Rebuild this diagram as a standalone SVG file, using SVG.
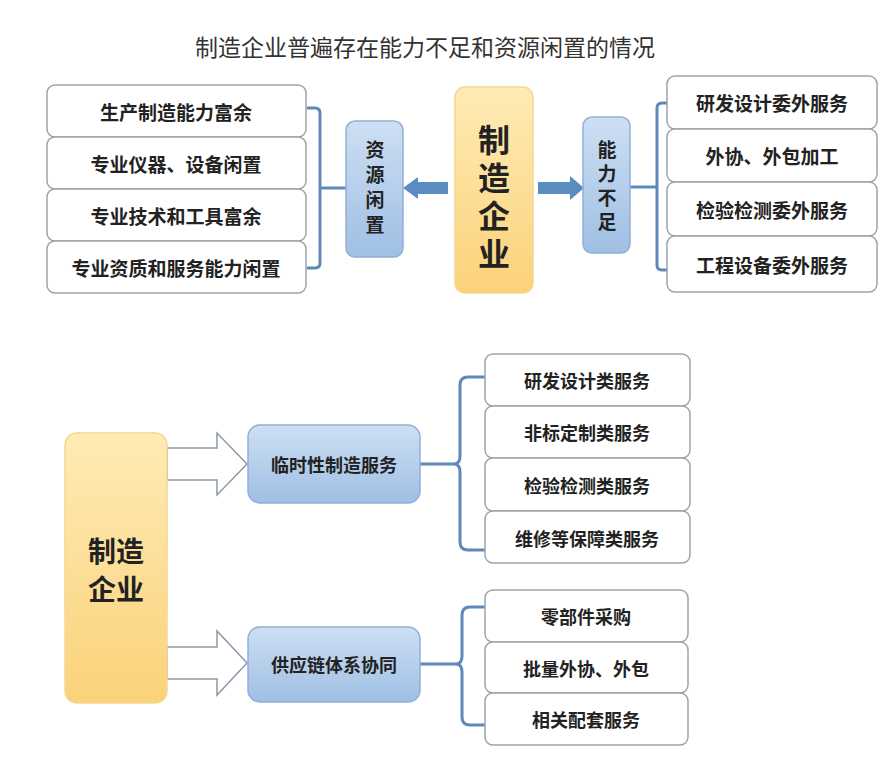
<svg xmlns="http://www.w3.org/2000/svg" width="895" height="759" viewBox="0 0 895 759">
<defs>
<linearGradient id="gBlue" x1="0" y1="0" x2="0" y2="1">
<stop offset="0" stop-color="#cddff3"/>
<stop offset="1" stop-color="#9fbfe4"/>
</linearGradient>
<linearGradient id="gYel" x1="0" y1="0" x2="0" y2="1">
<stop offset="0" stop-color="#feebb5"/>
<stop offset="1" stop-color="#fbd27a"/>
</linearGradient>
<style>
text{font-family:"Noto Sans CJK SC","Noto Sans CJK TC",sans-serif;fill:#222;text-anchor:middle;dominant-baseline:central}
.t{font-size:23px;font-weight:normal;fill:#333}
.wb{fill:#fff;stroke:#9ea3aa;stroke-width:1.5}
.bb{fill:url(#gBlue);stroke:#90b0d6;stroke-width:1.5}
.yb{fill:url(#gYel);stroke:#f6d690;stroke-width:1.5}
.lb{font-size:19px;font-weight:bold}
.sb{font-size:18px;font-weight:bold}
.v{writing-mode:vertical-rl}
.br{fill:none;stroke:#5f89b9;stroke-width:3}
.sa{fill:#5b8cc0}
.ha{fill:#fff;stroke:#8c99a6;stroke-width:1.5}
</style>
</defs>
<rect width="895" height="759" fill="#fff"/>
<text class="t" x="425" y="46">制造企业普遍存在能力不足和资源闲置的情况</text>

<g id="connectors">
<path class="br" d="M307,108 H315 Q320,108 320,113 V263 Q320,268 315,268 H307 M320,188 H346"/>
<path class="br" d="M667,103 H662 Q657,103 657,108 V265 Q657,270 662,270 H667 M630,187 H657"/>
<path class="br" d="M485,377 H468 Q460,377 460,385 V456 Q460,464 454,464 M485,550 H468 Q460,550 460,542 V472 Q460,464 454,464 M420,464 H456"/>
<path class="br" d="M485,607 H470 Q462,607 462,615 V656 Q462,664 456,664 M485,725 H470 Q462,725 462,717 V672 Q462,664 456,664 M420,664 H458"/>
<polygon class="sa" points="448,182 418,182 418,177 403,188 418,199 418,194 448,194"/>
<polygon class="sa" points="538,182 570,182 570,176 584,188 570,200 570,194 538,194"/>
<polygon class="ha" points="167,448 217,448 217,433 247,464 217,495 217,480 167,480"/>
<polygon class="ha" points="167,647 217,647 217,631 247,663 217,695 217,679 167,679"/>
</g>

<g id="left1"><rect class="wb" x="47" y="85" width="259" height="52" rx="8"/><text class="lb" x="176" y="111">生产制造能力富余</text></g>
<g id="left2"><rect class="wb" x="47" y="137" width="259" height="52" rx="8"/><text class="lb" x="176" y="163">专业仪器、设备闲置</text></g>
<g id="left3"><rect class="wb" x="47" y="189" width="259" height="52" rx="8"/><text class="lb" x="176" y="215">专业技术和工具富余</text></g>
<g id="left4"><rect class="wb" x="47" y="241" width="259" height="52" rx="8"/><text class="lb" x="176" y="267">专业资质和服务能力闲置</text></g>

<g id="idle"><rect class="bb" x="346" y="121" width="57" height="136" rx="9"/>
<text class="lb v" x="375" y="190" style="letter-spacing:6px">资源闲置</text></g>

<g id="mfg1"><rect class="yb" x="455" y="87" width="78" height="206" rx="10"/>
<text class="v" x="494" y="200" style="font-size:32px;font-weight:bold;letter-spacing:6px">制造企业</text></g>

<g id="lack"><rect class="bb" x="583" y="117" width="47" height="136" rx="9"/>
<text class="lb v" x="607" y="188" style="letter-spacing:5px">能力不足</text></g>

<g id="right1"><rect class="wb" x="667" y="76" width="210" height="53" rx="8"/><text class="lb" x="772" y="102">研发设计委外服务</text></g>
<g id="right2"><rect class="wb" x="667" y="129" width="210" height="53" rx="8"/><text class="lb" x="772" y="155">外协、外包加工</text></g>
<g id="right3"><rect class="wb" x="667" y="182" width="210" height="54" rx="8"/><text class="lb" x="772" y="209">检验检测委外服务</text></g>
<g id="right4"><rect class="wb" x="667" y="236" width="210" height="56" rx="8"/><text class="lb" x="772" y="264">工程设备委外服务</text></g>

<g id="mfg2"><rect class="yb" x="65" y="433" width="102" height="270" rx="12"/>
<text x="116" y="550" style="font-size:28px;font-weight:bold">制造<tspan x="116" dy="38">企业</tspan></text></g>

<g id="temp"><rect class="bb" x="248" y="425" width="172" height="78" rx="12"/><text class="sb" x="334" y="464">临时性制造服务</text></g>
<g id="supply"><rect class="bb" x="248" y="627" width="172" height="75" rx="12"/><text class="sb" x="334" y="664">供应链体系协同</text></g>

<g id="b1"><rect class="wb" x="485" y="354" width="205" height="52" rx="8"/><text class="sb" x="587" y="380">研发设计类服务</text></g>
<g id="b2"><rect class="wb" x="485" y="406" width="205" height="52" rx="8"/><text class="sb" x="587" y="432">非标定制类服务</text></g>
<g id="b3"><rect class="wb" x="485" y="458" width="205" height="53" rx="8"/><text class="sb" x="587" y="485">检验检测类服务</text></g>
<g id="b4"><rect class="wb" x="485" y="511" width="205" height="52" rx="8"/><text class="sb" x="587" y="538">维修等保障类服务</text></g>

<g id="c1"><rect class="wb" x="485" y="590" width="203" height="52" rx="8"/><text class="sb" x="586" y="616">零部件采购</text></g>
<g id="c2"><rect class="wb" x="485" y="642" width="203" height="51" rx="8"/><text class="sb" x="586" y="668">批量外协、外包</text></g>
<g id="c3"><rect class="wb" x="485" y="693" width="203" height="52" rx="8"/><text class="sb" x="586" y="719">相关配套服务</text></g>
</svg>
